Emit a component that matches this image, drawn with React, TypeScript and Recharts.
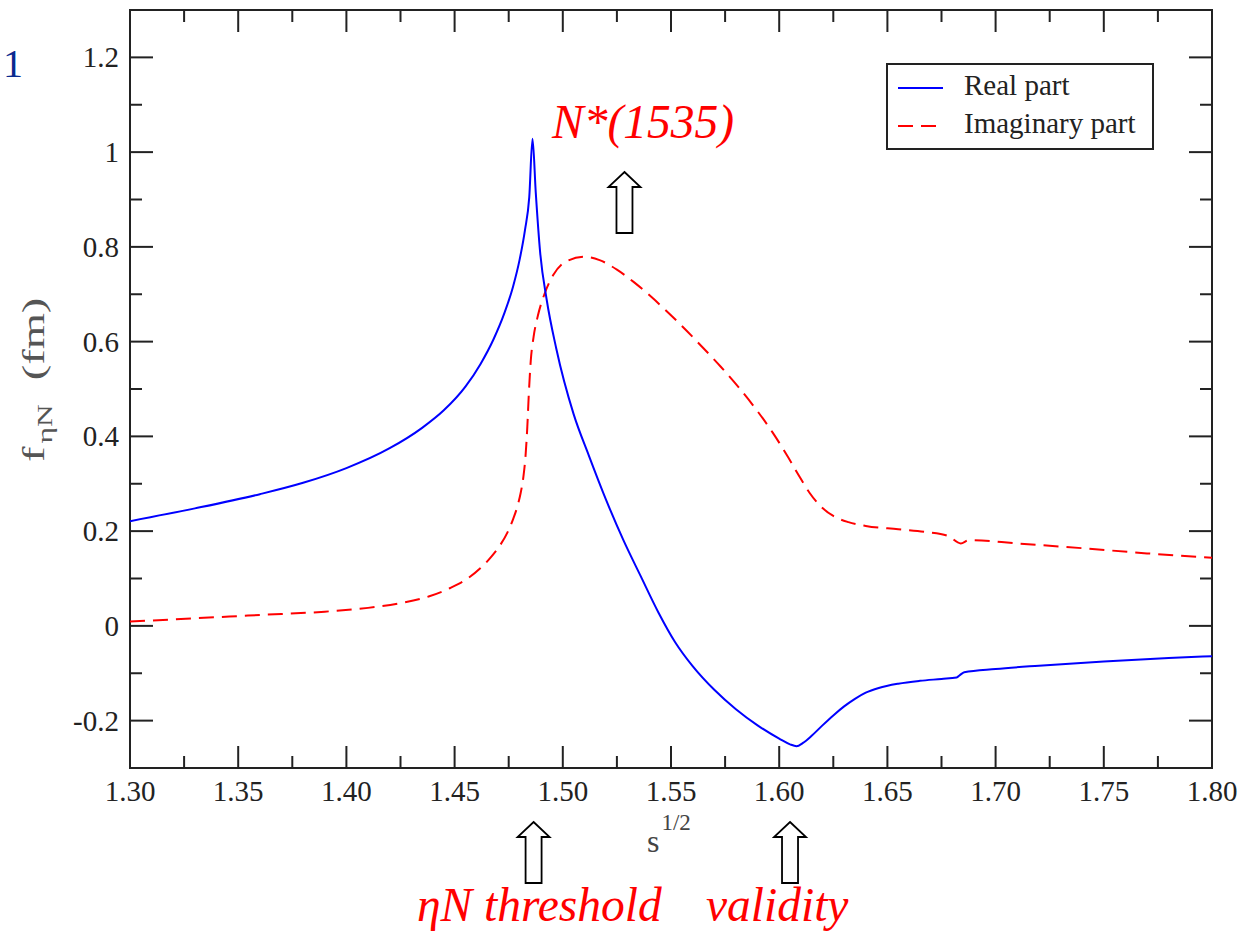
import React from "react";
import { LineChart, Line, XAxis, YAxis, Legend, ReferenceArea } from "recharts";

const W = 1242;
const H = 933;
const PLOT_LEFT = 130;
const PLOT_TOP = 10;
const PLOT_RIGHT = 1212;
const PLOT_BOTTOM = 768;

const S_MIN = 1.3;
const S_MAX = 1.8;
const F_MIN = -0.3;
const F_MAX = 1.3;

const FONT = "'Liberation Serif', 'Times New Roman', Times, serif";
const AXIS = "#222";
const BLUE = "#0000ff";
const RED = "#ff0000";

// Real part of the eta-N amplitude
const realS = [
  1.3, 1.33, 1.36, 1.38, 1.4, 1.42, 1.435, 1.445, 1.455, 1.462, 1.468, 1.473,
  1.477, 1.48, 1.4825, 1.4845, 1.486, 1.4875, 1.4895, 1.4925, 1.497, 1.505,
  1.512, 1.52, 1.528, 1.536, 1.544, 1.552, 1.56, 1.57, 1.58, 1.59, 1.6, 1.605,
  1.608, 1.611, 1.615, 1.62, 1.625, 1.63, 1.635, 1.64, 1.646, 1.655, 1.665,
  1.675, 1.682, 1.6835, 1.6855, 1.7, 1.72, 1.75, 1.78, 1.8,
];
const realF = [
  0.221, 0.248, 0.278, 0.302, 0.333, 0.375, 0.418, 0.455, 0.505, 0.553, 0.605,
  0.66, 0.716, 0.772, 0.835, 0.905, 1.028, 0.915, 0.79, 0.69, 0.585, 0.447,
  0.36, 0.266, 0.181, 0.105, 0.03, -0.035, -0.085, -0.135, -0.176, -0.21,
  -0.238, -0.25, -0.254, -0.247, -0.232, -0.21, -0.189, -0.17, -0.154, -0.141,
  -0.131, -0.122, -0.116, -0.112, -0.109, -0.104, -0.098, -0.091, -0.084,
  -0.075, -0.068, -0.064,
];

// Imaginary part
const imagS = [
  1.3, 1.33, 1.36, 1.39, 1.41, 1.425, 1.438, 1.448, 1.456, 1.462, 1.467, 1.471,
  1.4745, 1.477, 1.479, 1.4805, 1.4818, 1.4828, 1.4836, 1.4843, 1.4852, 1.4865,
  1.4885, 1.4915, 1.4955, 1.501, 1.51, 1.517, 1.525, 1.533, 1.541, 1.549, 1.557,
  1.565, 1.573, 1.581, 1.589, 1.597, 1.604, 1.609, 1.614, 1.619, 1.625, 1.632,
  1.64, 1.655, 1.668, 1.678, 1.6839, 1.6876, 1.71, 1.74, 1.77, 1.8,
];
const imagF = [
  0.009, 0.016, 0.023, 0.03, 0.038, 0.048, 0.062, 0.08, 0.1, 0.122, 0.146,
  0.17, 0.198, 0.225, 0.252, 0.28, 0.315, 0.36, 0.42, 0.49, 0.56, 0.61, 0.655,
  0.7, 0.74, 0.768, 0.779, 0.772, 0.752, 0.725, 0.694, 0.66, 0.624, 0.586,
  0.547, 0.505, 0.459, 0.408, 0.357, 0.318, 0.281, 0.253, 0.232, 0.219, 0.211,
  0.204, 0.198, 0.19, 0.174, 0.181, 0.174, 0.164, 0.153, 0.144,
];

const xTicks = [
  1.3, 1.325, 1.35, 1.375, 1.4, 1.425, 1.45, 1.475, 1.5, 1.525, 1.55, 1.575,
  1.6, 1.625, 1.65, 1.675, 1.7, 1.725, 1.75, 1.775, 1.8,
];
const yTicks = [
  -0.2, -0.1, 0, 0.1, 0.2, 0.3, 0.4, 0.5, 0.6, 0.7, 0.8, 0.9, 1, 1.1, 1.2,
];

const legendItems = [
  { label: "Real part", color: BLUE, dash: undefined as string | undefined },
  { label: "Imaginary part", color: RED, dash: "15 8" },
];

// annotation arrows: s position of each arrow
const resonanceS = 1.5285;
const thresholdS = 1.4865;
const validityS = 1.605;

const realData = realS.map((s, i) => ({ s, f: realF[i] }));
const imagData = imagS.map((s, i) => ({ s, f: imagF[i] }));

const sToX = (s: number) =>
  PLOT_LEFT + ((s - S_MIN) / (S_MAX - S_MIN)) * (PLOT_RIGHT - PLOT_LEFT);

const isMultiple = (v: number, step: number) =>
  Math.abs(v / step - Math.round(v / step)) < 1e-6;

function XTick(props: any) {
  const { x, payload } = props;
  const v = payload.value as number;
  const major = isMultiple(v, 0.05);
  const len = major ? 22 : 12;
  return (
    <g>
      <line x1={x} x2={x} y1={PLOT_BOTTOM} y2={PLOT_BOTTOM - len} stroke={AXIS} strokeWidth={2} />
      <line x1={x} x2={x} y1={PLOT_TOP} y2={PLOT_TOP + len} stroke={AXIS} strokeWidth={2} />
      {major && (
        <text x={x} y={801} textAnchor="middle" fontSize={29} fontFamily={FONT} fill={AXIS}>
          {v.toFixed(2)}
        </text>
      )}
    </g>
  );
}

function YTick(props: any) {
  const { y, payload } = props;
  const v = payload.value as number;
  const major = isMultiple(v, 0.2);
  const len = major ? 23 : 12;
  return (
    <g>
      <line x1={PLOT_LEFT} x2={PLOT_LEFT + len} y1={y} y2={y} stroke={AXIS} strokeWidth={2} />
      <line x1={PLOT_RIGHT} x2={PLOT_RIGHT - len} y1={y} y2={y} stroke={AXIS} strokeWidth={2} />
      {major && (
        <text x={119} y={y + 10} textAnchor="end" fontSize={29} fontFamily={FONT} fill={AXIS}>
          {String(parseFloat(v.toFixed(1)))}
        </text>
      )}
    </g>
  );
}

function LegendBox() {
  return (
    <svg width={268} height={87} style={{ display: "block" }}>
      <rect x={1} y={1} width={266} height={85} fill="#fff" stroke={AXIS} strokeWidth={2} />
      {legendItems.map((item, i) => (
        <g key={item.label}>
          <line
            x1={12}
            x2={57}
            y1={25 + i * 38}
            y2={25 + i * 38}
            stroke={item.color}
            strokeWidth={2}
            strokeDasharray={item.dash}
          />
          <text x={78} y={32 + i * 38} fontSize={29} fontFamily={FONT} fill={AXIS}>
            {item.label}
          </text>
        </g>
      ))}
    </svg>
  );
}

function Arrow({ cx, tip, head, bottom }: { cx: number; tip: number; head: number; bottom: number }) {
  const d = `M${cx},${tip} L${cx + 16},${head} L${cx + 8},${head} L${cx + 8},${bottom} L${cx - 8},${bottom} L${cx - 8},${head} L${cx - 16},${head} Z`;
  return <path d={d} fill="#fff" stroke="#000" strokeWidth={1.8} strokeLinejoin="miter" />;
}

export default function App() {
  return (
    <div
      style={{
        position: "absolute",
        left: 0,
        top: 0,
        width: W,
        height: H,
        background: "#fff",
        fontFamily: FONT,
      }}
    >
      <LineChart width={W} height={H} margin={{ top: PLOT_TOP, right: W - PLOT_RIGHT, bottom: 0, left: 0 }}>
        <XAxis
          dataKey="s"
          type="number"
          domain={[S_MIN, S_MAX]}
          ticks={xTicks}
          interval={0}
          tick={<XTick />}
          tickLine={false}
          axisLine={false}
          height={H - PLOT_BOTTOM}
          allowDataOverflow
        />
        <YAxis
          type="number"
          domain={[F_MIN, F_MAX]}
          ticks={yTicks}
          interval={0}
          tick={<YTick />}
          tickLine={false}
          axisLine={false}
          width={PLOT_LEFT}
          allowDataOverflow
        />
        <ReferenceArea
          x1={S_MIN}
          x2={S_MAX}
          y1={F_MIN}
          y2={F_MAX}
          fill="none"
          stroke={AXIS}
          strokeWidth={2}
        />
        <Legend
          layout="horizontal"
          verticalAlign="middle"
          align="center"
          content={() => <LegendBox />}
          wrapperStyle={{ left: 886, top: 63, width: 268, height: 87 }}
        />
        <Line
          data={imagData}
          dataKey="f"
          name="Imaginary part"
          type="monotone"
          stroke={RED}
          strokeWidth={2}
          strokeDasharray="15 8"
          dot={false}
          activeDot={false}
          isAnimationActive={false}
        />
        <Line
          data={realData}
          dataKey="f"
          name="Real part"
          type="monotone"
          stroke={BLUE}
          strokeWidth={2}
          dot={false}
          activeDot={false}
          isAnimationActive={false}
        />
      </LineChart>

      <svg
        width={W}
        height={H}
        style={{ position: "absolute", left: 0, top: 0, pointerEvents: "none" }}
        fontFamily={FONT}
      >
        <text x={3} y={77} fontSize={40} fill="#0a2a8f">
          1
        </text>

        {/* axis titles */}
        <text transform="translate(44,462) rotate(-90) scale(1.5,1)" fontSize={31} fill="#555">
          f
          <tspan fontSize={21} dy={8} dx={2}>
            ηN
          </tspan>
          <tspan dy={-8} dx={16}>
            (fm)
          </tspan>
        </text>
        <text x={647} y={852} fontSize={32} fill="#444">
          s
          <tspan fontSize={23} dy={-22} dx={2}>
            1/2
          </tspan>
        </text>

        {/* annotations */}
        <text x={552} y={138} fontSize={47.5} fontStyle="italic" fill={RED}>
          N*(1535)
        </text>
        <Arrow cx={sToX(resonanceS)} tip={172} head={187} bottom={233} />
        <Arrow cx={sToX(thresholdS)} tip={822} head={837} bottom={883} />
        <Arrow cx={sToX(validityS)} tip={822} head={837} bottom={883} />
        <text x={417} y={921} fontSize={47.5} fontStyle="italic" fill={RED}>
          ηN threshold
        </text>
        <text x={706} y={921} fontSize={47.5} fontStyle="italic" fill={RED}>
          validity
        </text>
      </svg>
    </div>
  );
}
